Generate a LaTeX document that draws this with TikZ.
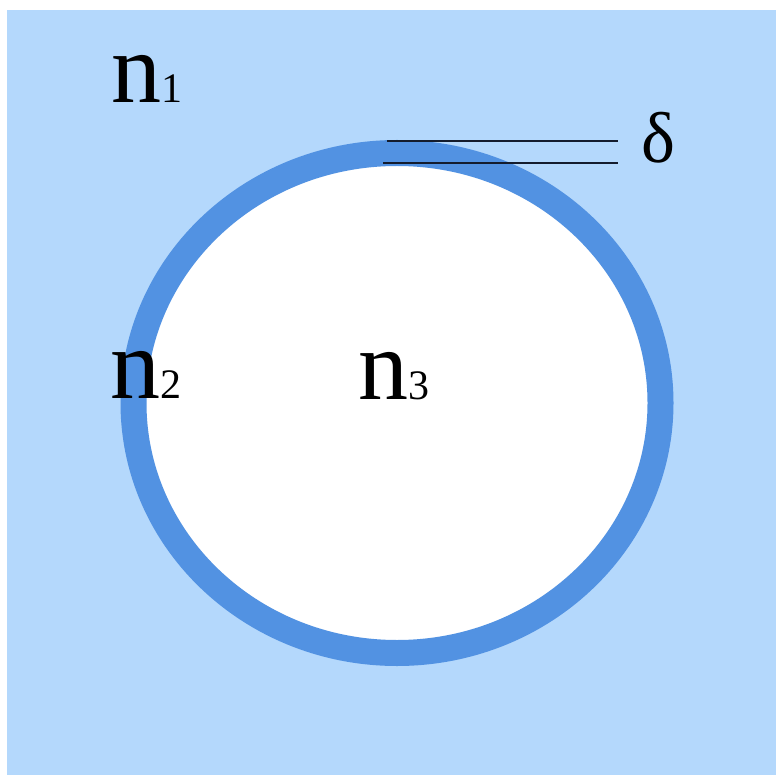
\documentclass[tikz,border=0pt]{standalone}
\usepackage{fontspec}
\setmainfont{Liberation Serif}
\definecolor{bgblue}{RGB}{180,216,252}
\definecolor{ringblue}{RGB}{82,146,226}
\definecolor{linedark}{RGB}{20,28,45}
\tikzset{
  lbl/.style={anchor=base west, inner sep=0pt, font=\fontsize{100}{100}\selectfont},
  dimline/.style={draw=linedark, line width=2.6pt},
}
\newcommand{\sub}[1]{{\fontsize{42}{42}\selectfont #1}}
\begin{document}
\begin{tikzpicture}[x=1pt,y=-1pt]
\useasboundingbox (0,0) rectangle (776,775);
\fill[bgblue] (7,10) rectangle (776,775);
\draw[ringblue, line width=26pt, fill=white] (397,403) ellipse [x radius=263.5, y radius=250];
\coordinate (t1) at (387,141);
\coordinate (t2) at (618,141);
\coordinate (b1) at (383,163);
\coordinate (b2) at (618,163);
\draw[dimline] (t1) -- (t2);
\draw[dimline] (b1) -- (b2);
\node[anchor=base west, inner sep=0pt, font=\fontsize{72}{72}\selectfont] (delta) at (641,163) {δ};
\node[lbl] (n1) at (111,103) {n\sub{1}};
\node[lbl] (n2) at (110,398) {n\sub{2}};
\node[lbl] (n3) at (358,399) {n\sub{3}};
\end{tikzpicture}
\end{document}
